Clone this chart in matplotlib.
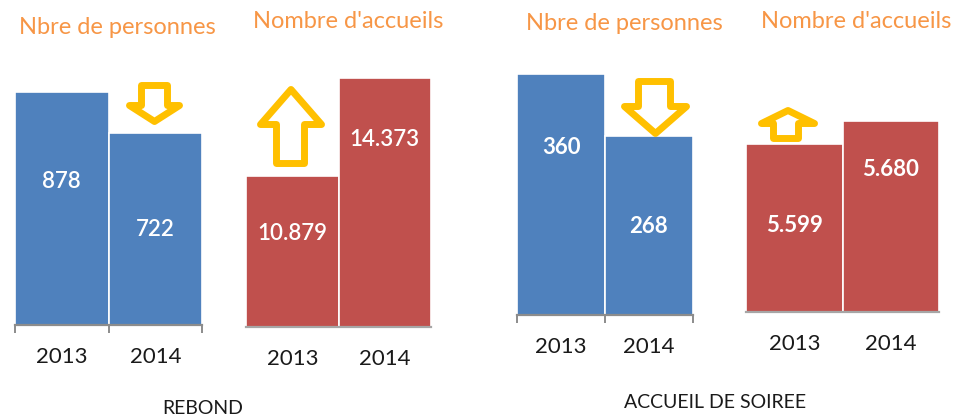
import matplotlib
matplotlib.use("Agg")
import matplotlib.pyplot as plt
from matplotlib.patches import Polygon

plt.rcParams['font.family'] = ['Lato', 'DejaVu Sans']

# ---------------- data ----------------
years = ["2013", "2014"]
rebond_personnes = [878, 722]
rebond_accueils = [10879, 14373]
soiree_personnes = [360, 268]
soiree_accueils = [5599, 5680]
panel_titles = ["Nbre de personnes", "Nombre d'accueils", "Nbre de personnes", "Nombre d'accueils"]
group_labels = ["REBOND", "ACCUEIL DE SOIREE"]

BLUE = "#4F81BD"
RED = "#C0504D"
ORANGE = "#F79646"
GOLD = "#FFC000"

W, H = 955, 417
fig = plt.figure(figsize=(W / 100, H / 100), dpi=100)


def fx(x):
    return x / W


def fy(y):
    return 1 - y / H


def fmt(v):
    return f"{v:,}".replace(",", ".")


panels = [
    dict(vals=rebond_personnes, l=15, r=202, b=325, t=91.7, ymin=0, color=BLUE, ticks=True,
         lab_y=[181, 230], title=(117, 28), bold=False, spine="#8C8C8C"),
    dict(vals=rebond_accueils, l=246, r=431, b=327, t=78, ymin=5495, color=RED, ticks=False,
         lab_y=[234, 140], title=(348, 21), bold=False, spine="#A6A6A6"),
    dict(vals=soiree_personnes, l=517, r=693, b=315, t=74, ymin=0, color=BLUE, ticks=True,
         lab_y=[148, 227], title=(624, 24), bold=True, spine="#8C8C8C"),
    dict(vals=soiree_accueils, l=746, r=939, b=312, t=121, ymin=5000, color=RED, ticks=False,
         lab_y=[226, 170], title=(856, 22), bold=True, spine="#A6A6A6"),
]

for i, p in enumerate(panels):
    ax = fig.add_axes([fx(p["l"]), fy(p["b"]), fx(p["r"] - p["l"]), (p["b"] - p["t"]) / H])
    xs = list(range(len(years)))
    ax.bar(xs, [v - p["ymin"] for v in p["vals"]], bottom=p["ymin"], width=1.0,
           color=p["color"], edgecolor="white", linewidth=1.2, clip_on=False, zorder=2)
    ax.set_xlim(-0.5, 1.5)
    ax.set_ylim(p["ymin"], max(p["vals"]))
    ax.set_yticks([])
    for s in ["left", "right", "top"]:
        ax.spines[s].set_visible(False)
    ax.spines["bottom"].set_color(p["spine"])
    ax.spines["bottom"].set_linewidth(1.6)
    ax.spines["bottom"].set_zorder(3)
    if p["ticks"]:
        ax.set_xticks([-0.5, 0.5, 1.5])
        ax.tick_params(axis="x", which="major", length=6, width=1.4, color=p["spine"],
                       labelbottom=False)
    else:
        ax.set_xticks([])
    ax.set_xticks(xs, minor=True)
    ax.set_xticklabels(years, minor=True)
    ax.tick_params(axis="x", which="minor", length=0, pad=16, labelsize=16, labelcolor="#1a1a1a")
    ax.patch.set_alpha(0)
    for j, v in enumerate(p["vals"]):
        xc = p["l"] + (p["r"] - p["l"]) * (j + 0.5) / 2
        fig.text(fx(xc), fy(p["lab_y"][j]), fmt(v), color="white", ha="center", va="center",
                 fontsize=16, fontweight="bold" if p["bold"] else "semibold")
    tx, ty = p["title"]
    fig.text(fx(tx), fy(ty), panel_titles[i], color=ORANGE, ha="center", va="center", fontsize=17)

fig.text(fx(203), fy(408), group_labels[0], ha="center", va="center", fontsize=14, color="#1a1a1a")
fig.text(fx(715), fy(402), group_labels[1], ha="center", va="center", fontsize=14, color="#1a1a1a")


def block_arrow(x0, x1, sx0, sx1, y_tail, y_head_base, y_tip):
    pts = [(sx0, y_tail), (sx1, y_tail), (sx1, y_head_base), (x1, y_head_base),
           ((x0 + x1) / 2, y_tip), (x0, y_head_base), (sx0, y_head_base)]
    poly = Polygon([(fx(a), fy(b)) for a, b in pts], closed=True, transform=fig.transFigure,
                   facecolor="white", edgecolor=GOLD, linewidth=5, joinstyle="round", zorder=5)
    fig.add_artist(poly)


block_arrow(129.5, 179.5, 141.5, 167.5, 85.5, 105.5, 121.5)
block_arrow(624.5, 686.5, 638.5, 670.5, 81.5, 106.5, 133.5)
block_arrow(260.5, 321.5, 276.5, 304.5, 163.5, 124.5, 89.5)
block_arrow(761.5, 814.5, 773.5, 798.5, 138.5, 123.5, 110.5)

fig.savefig("out.png", dpi=100)
